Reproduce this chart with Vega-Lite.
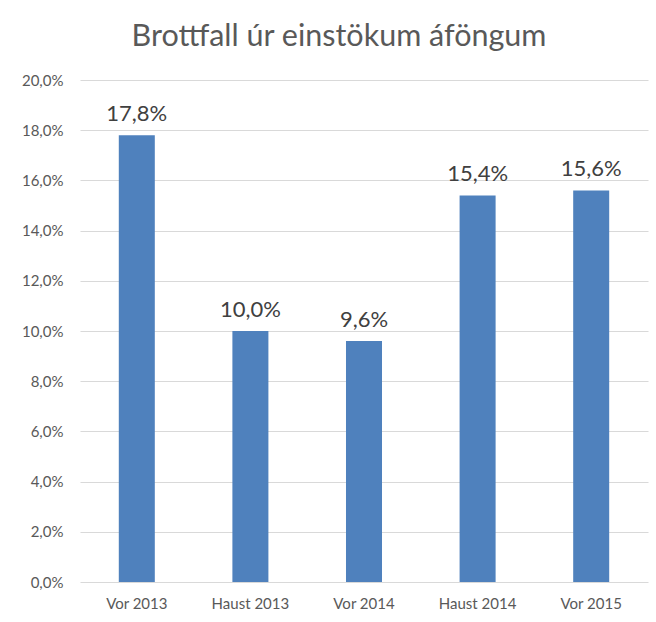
{
  "$schema": "https://vega.github.io/schema/vega-lite/v6.json",
  "width": 568,
  "height": 502,
  "autosize": "none",
  "padding": {"left": 80, "top": 80, "right": 8, "bottom": 40},
  "config": {
    "locale": {"number": {"decimal": ",", "thousands": ".", "grouping": [3], "currency": ["", " kr."]}},
    "view": {"stroke": null},
    "font": "Lato"
  },
  "title": {
    "text": "Brottfall úr einstökum áföngum",
    "fontSize": 30.5,
    "fontWeight": "normal",
    "color": "#595959",
    "font": "Lato",
    "anchor": "middle",
    "dx": -25,
    "offset": 21
  },
  "data": {
    "values": [
      {"tímabil": "Vor 2013", "hlutfall": 0.178},
      {"tímabil": "Haust 2013", "hlutfall": 0.100},
      {"tímabil": "Vor 2014", "hlutfall": 0.096},
      {"tímabil": "Haust 2014", "hlutfall": 0.154},
      {"tímabil": "Vor 2015", "hlutfall": 0.156}
    ]
  },
  "encoding": {
    "x": {
      "field": "tímabil",
      "type": "nominal",
      "sort": null,
      "scale": {"paddingInner": 0.683, "paddingOuter": 0.3415},
      "axis": {
        "title": null,
        "labelAngle": 0,
        "domain": false,
        "ticks": false,
        "labelFontSize": 15,
        "labelColor": "#595959",
        "labelPadding": 14,
        "labelFont": "Lato"
      }
    },
    "y": {
      "field": "hlutfall",
      "type": "quantitative",
      "scale": {"domain": [0, 0.2], "nice": false},
      "axis": {
        "title": null,
        "format": ".1%",
        "values": [0, 0.02, 0.04, 0.06, 0.08, 0.1, 0.12, 0.14, 0.16, 0.18, 0.2],
        "domain": false,
        "ticks": false,
        "gridColor": "#d9d9d9",
        "gridWidth": 1,
        "labelFontSize": 15,
        "labelColor": "#595959",
        "labelPadding": 17,
        "labelFont": "Lato"
      }
    }
  },
  "layer": [
    {"mark": {"type": "bar", "color": "#4f81bd"}},
    {
      "mark": {"type": "text", "baseline": "bottom", "dy": -9, "fontSize": 22, "color": "#404040", "font": "Lato"},
      "encoding": {"text": {"field": "hlutfall", "type": "quantitative", "format": ".1%"}}
    }
  ]
}
